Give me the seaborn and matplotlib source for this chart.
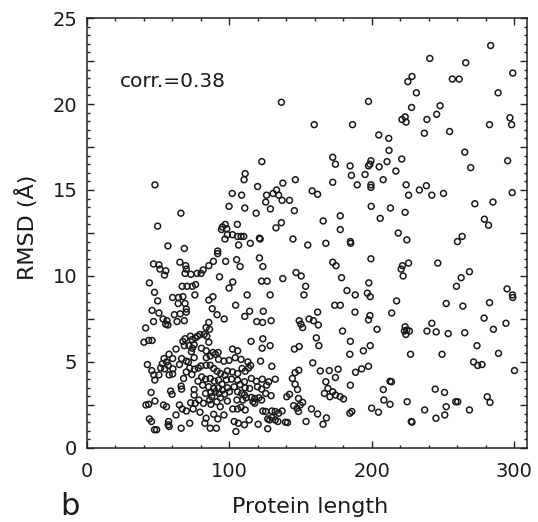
import numpy as np
import pandas as pd
import matplotlib
matplotlib.use("Agg")
import matplotlib.pyplot as plt
import seaborn as sns
from matplotlib.ticker import MultipleLocator, FuncFormatter

sns.set_style("ticks")
plt.rcParams["font.family"] = ["DejaVu Sans"]
plt.rcParams["text.color"] = "#1a1a1a"
plt.rcParams["axes.labelcolor"] = "#1a1a1a"
plt.rcParams["xtick.labelcolor"] = "#1a1a1a"
plt.rcParams["ytick.labelcolor"] = "#1a1a1a"

# (protein length, RMSD in A), grouped by RMSD band
points_high = [
    (283.5, 23.4), (240.8, 22.65), (266, 22.4), (299, 21.8), (228.3, 21.6), (225.4, 21.3),
    (256.6, 21.45), (261.4, 21.45), (231.4, 20.65), (288.7, 20.65), (136.7, 20.1), (197.8, 20.15),
    (228, 19.8), (248, 19.9), (245.6, 19.4), (238.8, 19.1), (221.3, 19.1), (223.5, 19.25),
    (224.2, 18.95), (297, 19.2), (298.2, 18.8), (159.7, 18.8), (186.6, 18.8), (282.7, 18.8),
    (254.7, 18.4), (237, 18.3), (205, 18.2), (212, 18.0), (212.2, 17.3), (265.3, 17.2),
    (172.7, 16.9), (174.6, 16.5), (123, 16.65), (199.5, 16.7), (198.8, 16.5), (197.8, 16.4),
    (210.8, 16.65), (221.1, 16.8), (269.5, 16.3), (295.4, 16.7), (184.9, 16.4), (205.3, 16.35),
    (195.4, 15.9), (185.8, 15.85), (217, 16.1), (111.3, 15.95), (110.5, 15.6), (208.1, 15.6),
    (172.7, 15.45), (146.5, 15.6), (137.7, 15.4), (48, 15.3), (189.9, 15.3), (199.5, 15.3),
    (199.5, 15.15), (224.2, 15.3), (238.4, 15.25), (233.5, 15.0), (225.9, 14.7), (242.2, 14.7),
    (250.4, 14.8), (298.6, 14.85), (120, 15.2), (102.2, 14.8), (108.8, 14.7), (126.3, 14.7),
    (130.9, 14.8), (133.3, 15.0), (134.8, 14.7), (137.2, 14.4), (158.3, 14.95), (162.1, 14.75),
    (125.7, 14.3), (142.4, 14.4),
]

points_mid = [
    (100, 14.05), (111, 13.95), (129, 13.9), (145.8, 13.8), (199.7, 14.05), (213.2, 13.95),
    (223.5, 13.7), (272.4, 14.2), (285.1, 14.3), (66.2, 13.65), (119, 13.65), (206, 13.35),
    (178, 13.5), (166, 13.2), (136.7, 13.1), (105.8, 13.0), (279.1, 13.3), (282, 12.95),
    (49.9, 12.9), (132.9, 12.8), (95.3, 12.85), (97.3, 13.0), (94.7, 12.7), (98.4, 12.75),
    (98.8, 12.4), (102.4, 12.4), (106, 12.3), (108.4, 12.3), (110.3, 12.3), (97.1, 12.15),
    (106.7, 11.8), (114.9, 11.9), (121.3, 12.2), (121.8, 12.15), (144.8, 12.15), (167.9, 11.9),
    (155.2, 11.8), (178, 12.7), (218.7, 12.5), (224.7, 12.1), (185.1, 12.0), (185.3, 11.9),
    (263.5, 12.3), (260.2, 12.0), (57.1, 11.75), (68.6, 11.6), (92, 11.45), (92, 11.3),
    (121.3, 11.05), (199.5, 11.0), (172.7, 10.8), (175, 10.6), (246.4, 10.75), (221.6, 10.6),
    (225.9, 10.75), (220.7, 10.4), (222.1, 10.0), (47, 10.7), (50.8, 10.65), (51.5, 10.4),
    (55.6, 10.3), (54.7, 10.05), (65.5, 10.8), (69.6, 10.6), (70, 10.4), (69.1, 10.15),
    (73.2, 10.1), (77.5, 10.15), (80.4, 10.15), (85.8, 10.6), (89, 10.85), (81.8, 10.35),
    (97.6, 10.85), (105.3, 10.95), (107.7, 10.55), (123.7, 10.55), (93.3, 9.95), (137.7, 9.85),
    (147, 10.2), (150.6, 10.0), (178.9, 9.9), (268.6, 10.25), (262.8, 9.9), (259.5, 9.4),
    (122.8, 9.7), (126.7, 9.7), (44.1, 9.6), (67.1, 9.4), (70.5, 9.4), (74.3, 9.4),
    (76.5, 9.5), (102.6, 9.65), (100, 9.3), (198, 9.6), (197, 9.0), (199, 8.8),
    (153.7, 9.4), (152.5, 8.9), (47.7, 9.05), (49.9, 8.55), (64.5, 8.75), (60.4, 8.75),
    (67.6, 8.8), (76, 8.9), (88.7, 8.8), (85.8, 8.6), (112.7, 8.9), (128.8, 8.9),
    (182.7, 9.15), (188.5, 8.9), (295, 9.25), (298.8, 8.9), (299, 8.75), (252.3, 8.4),
    (282.7, 8.45),
]

points_low = [
    (104.6, 8.3), (174.1, 8.3), (178, 8.3), (217.5, 8.55), (264, 8.25), (64.3, 8.4),
    (69.1, 8.4), (46, 8.0), (50.8, 7.85), (70, 8.08), (70, 7.9), (88.2, 8.1),
    (124, 7.95), (114.4, 7.95), (111, 7.65), (91.6, 7.75), (188.3, 7.9), (214.1, 7.85),
    (162.1, 7.9), (61.6, 7.75), (65.7, 7.8), (53.7, 7.5), (56.4, 7.4), (96.6, 7.5),
    (198.8, 7.7), (197.8, 7.45), (278.9, 7.55), (63.5, 7.35), (68.6, 7.4), (156.1, 7.5),
    (159.2, 7.4), (119.4, 7.35), (123.5, 7.3), (129.5, 7.4), (149.2, 7.4), (150.4, 7.2),
    (151.6, 7.0), (85.8, 7.3), (41.5, 6.98), (47, 7.35), (55.6, 7.2), (57.1, 7.15),
    (242.2, 7.25), (294.2, 7.25), (162.6, 7.15), (223.5, 7.05), (223, 6.8), (224.6, 6.85),
    (226.5, 6.8), (238.8, 6.8), (245.3, 6.75), (203.8, 6.9), (285.4, 6.9), (265.3, 6.7),
    (253.7, 6.65), (83.9, 7.0), (86.3, 6.9), (179.6, 6.8), (224, 6.6), (161.2, 6.4),
    (163, 5.95), (40.3, 6.15), (43.6, 6.25), (46, 6.25), (67.6, 6.2), (69.1, 6.35),
    (72.9, 6.5), (74.1, 6.3), (76.3, 6.4), (77.9, 6.5), (79.6, 6.6), (82.5, 6.6),
    (84.4, 6.5), (85.8, 6.15), (71.9, 5.95), (75.5, 6.0), (74.3, 5.8), (73.6, 5.6),
    (68.6, 5.95), (123.7, 6.35), (115.4, 6.2), (185.1, 6.2), (273.9, 5.95), (199, 5.95),
    (62.8, 5.75), (80.6, 5.8), (83.9, 5.65), (88.7, 5.55), (92.3, 5.55), (102.4, 5.75),
    (106, 5.65), (123.2, 5.8), (128.8, 5.95), (145.8, 5.75), (149.2, 5.9), (194.2, 5.65),
    (184.7, 5.45), (227.3, 5.45), (249.4, 5.45), (289, 5.5), (57.9, 5.45), (60.4, 5.2),
    (54.4, 5.2), (56.1, 5.0), (53.2, 4.9), (57.3, 4.8), (60.6, 4.6), (54.9, 4.6),
    (42.7, 4.85), (66.7, 5.2), (65.2, 4.85), (70, 5.05), (75.5, 5.25), (71.5, 5.0),
    (84, 5.25), (86.8, 5.35), (90.4, 5.45), (92.6, 5.15), (96.4, 5.05), (100, 5.1),
    (104.3, 5.25), (108.4, 5.15), (113.2, 5.0), (115.1, 4.8), (122.1, 5.05), (130, 4.75),
    (158.7, 4.95), (170.3, 4.5), (197.8, 4.75), (193, 4.6), (188.7, 4.4), (271.5, 5.0),
    (274.4, 4.8), (277.4, 4.85), (300.2, 4.5),
]

points_bottom = [
    (45.8, 4.5), (47.2, 4.25), (47.9, 3.95), (52, 4.65), (50.8, 4.25), (60.4, 4.3), (58, 4.25),
    (70.0, 4.42), (72.4, 4.65), (73.9, 4.27), (68.1, 4.04), (75.8, 4.58), (78.4, 4.65),
    (80.3, 4.77), (83.9, 4.81), (86.8, 4.81), (89.2, 4.62), (91.6, 4.46), (94.0, 4.33),
    (98.8, 4.48), (97.1, 4.23), (102.4, 4.42), (106.0, 4.33), (109.1, 4.62), (111.3, 4.46),
    (113.7, 4.65), (80.8, 4.13), (83.5, 4.0), (78.2, 3.88), (86.8, 4.04), (89.7, 3.88),
    (92.6, 3.94), (95.0, 3.71), (98.1, 3.96), (101.7, 4.0), (106.0, 3.94), (110.8, 3.85),
    (115.6, 4.04), (119.2, 3.88), (123.3, 4.0), (127.8, 3.85), (132.4, 4.0), (144.4, 4.04),
    (146.3, 4.38), (148.9, 4.52), (164.0, 4.48), (176.5, 4.58), (212.9, 3.88), (185.1, 3.65),
    (174.6, 4.1), (81.5, 3.65), (85.6, 3.56), (89.2, 3.46), (92.6, 3.5), (95.4, 3.37),
    (98.8, 3.5), (103.6, 3.56), (107.7, 3.69), (111.3, 3.5), (114.4, 3.46), (119.9, 3.56),
    (122.8, 3.42), (126.4, 3.65), (59.0, 3.31), (66.4, 3.6), (66.7, 3.42), (75.5, 3.4),
    (83.5, 3.17), (87.3, 3.23), (90.4, 3.27), (93.0, 3.17), (87.8, 2.98), (94.0, 2.92),
    (96.9, 3.13), (100.2, 3.27), (106.0, 3.27), (108.9, 3.17), (110.8, 3.08), (115.6, 2.94),
    (118.0, 2.88), (125.7, 3.17), (129.5, 3.04), (45.3, 3.23), (146.3, 3.71), (148.0, 3.4),
    (167.9, 3.85), (169.3, 3.46), (166.9, 3.17), (170.7, 2.98), (172.7, 3.27), (174.6, 3.08),
    (177.9, 2.98), (208.2, 3.4), (213.9, 3.85), (244.6, 3.42), (251.1, 3.23), (281.1, 2.98),
    (180.3, 2.85), (142.4, 3.12), (140.5, 2.98), (148.7, 2.88), (122.8, 2.79), (120.9, 2.92),
    (118.0, 2.6), (116.8, 2.69), (105.5, 2.79), (109.6, 2.79), (112.0, 2.92), (75.5, 3.08),
    (78.9, 2.79), (76.3, 2.6), (82.0, 2.6), (86.3, 2.79), (91.4, 2.69), (87.3, 2.54),
    (93.8, 2.4), (60.0, 3.12), (65.2, 2.5), (67.1, 2.27), (41.7, 2.5), (43.6, 2.54),
    (48.0, 2.73), (54.0, 2.5), (56.1, 2.4), (73.1, 2.63), (74.8, 2.27), (98.8, 2.73),
    (102.6, 2.27), (106.0, 2.27), (108.4, 2.37), (111.3, 2.21), (79.6, 2.08), (89.2, 1.96),
    (96.4, 1.92), (92.1, 1.69), (145.3, 2.46), (147.7, 2.31), (148.7, 2.12), (151.6, 2.65),
    (149.9, 2.5), (123.7, 2.15), (125.7, 2.12), (130.0, 2.15), (132.4, 2.12), (134.8, 2.02),
    (137.2, 2.15), (208.6, 2.79), (212.9, 2.54), (224.9, 2.69), (252.3, 2.4), (260.4, 2.69),
    (259.0, 2.69), (283.0, 2.65), (200.0, 2.31), (204.8, 2.08), (184.7, 2.02), (186.1, 2.12),
    (237.2, 2.21), (268.6, 2.21), (157.8, 2.27), (162.1, 1.98), (168.3, 1.75), (165.9, 1.38),
    (154.0, 1.54), (251.3, 1.92), (245.1, 1.73), (227.8, 1.54), (228.3, 1.5), (127.1, 1.69),
    (128.5, 1.63), (130.0, 1.77), (132.4, 1.63), (134.3, 1.54), (139.6, 1.5), (141.0, 1.48),
    (103.6, 1.54), (106.5, 1.44), (110.8, 1.35), (114.1, 1.63), (120.4, 1.38), (83.9, 1.73),
    (83.0, 1.44), (86.8, 1.15), (91.1, 1.15), (72.4, 1.44), (66.4, 1.15), (57.6, 1.54),
    (57.3, 1.35), (58.0, 1.25), (44.1, 1.69), (45.6, 1.54), (47.7, 1.06), (49.2, 1.06),
    (104.8, 0.96), (127.1, 1.12), (70.0, 2.15), (62.8, 1.92),
]

corr_text = "corr.=0.38"

df = pd.DataFrame(points_high + points_mid + points_low + points_bottom,
                  columns=["length", "rmsd"])

fig = plt.figure(figsize=(5.38, 5.22), dpi=100)
ax = fig.add_axes([0.1608, 0.1418, 0.8188, 0.8237])

sns.scatterplot(
    data=df,
    x="length",
    y="rmsd",
    ax=ax,
    marker="o",
    s=18,
    facecolor="none",
    edgecolor="#1a1a1a",
    linewidth=1.1,
    legend=False
)

ax.set_xlim(0, 309)
ax.set_ylim(0, 25)

ax.xaxis.set_major_locator(MultipleLocator(100))
ax.xaxis.set_minor_locator(MultipleLocator(20))
ax.yaxis.set_major_locator(MultipleLocator(2.5))
ax.yaxis.set_minor_locator(MultipleLocator(0.5))
ax.yaxis.set_major_formatter(FuncFormatter(lambda v, p: f"{v:.0f}" if abs(v % 5) < 1e-6 else ""))

ax.tick_params(which="both", direction="in", top=True, right=True, color="#222222", width=1.0)
ax.tick_params(which="major", length=5)
ax.tick_params(which="minor", length=2.5)
ax.tick_params(axis="x", which="major", labelsize=14, pad=10)
ax.tick_params(axis="y", which="major", labelsize=14, pad=6.5)

for spine in ax.spines.values():
    spine.set_visible(True)
    spine.set_linewidth(1.1)
    spine.set_color("#222222")

ax.set_xlabel("Protein length", fontsize=16)
ax.set_ylabel("RMSD (Å)", fontsize=16)
ax.xaxis.set_label_coords(0.507, -0.114)
ax.yaxis.set_label_coords(-0.11, 0.514)

ax.text(23.5, 21.0, corr_text, fontsize=14.5, ha="left", va="baseline")
fig.text(0.112, 0.013, "b", fontsize=22, ha="left", va="baseline")

plt.savefig("out.png", dpi=100)
plt.close()
